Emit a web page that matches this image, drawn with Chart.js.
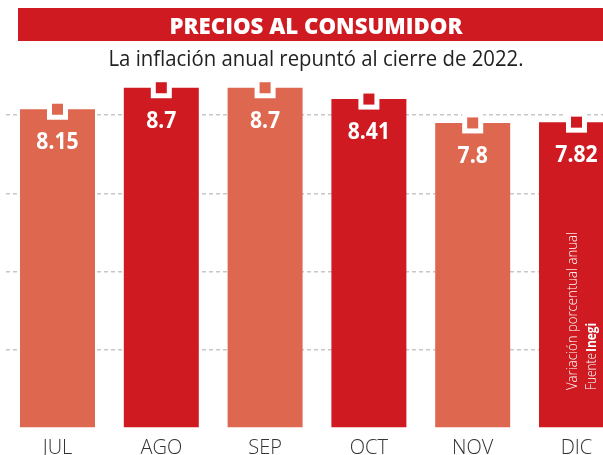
<!DOCTYPE html>
<html>
<head>
<meta charset="utf-8">
<script src="https://cdn.jsdelivr.net/npm/chart.js@4"></script>
<style>
  html, body { margin: 0; padding: 0; background: #fff; overflow: hidden; }
  #wrap { position: relative; width: 603px; height: 455px; overflow: hidden; }
  #wrap canvas { position: absolute; left: 0; top: 0; display: block; }
</style>
</head>
<body>
<div id="wrap"><canvas id="myChart" width="630" height="470"></canvas></div>
<script>
// Data
const categories = ['JUL', 'AGO', 'SEP', 'OCT', 'NOV', 'DIC'];
const values = [8.15, 8.7, 8.7, 8.41, 7.8, 7.82];
const valueLabels = ['8.15', '8.7', '8.7', '8.41', '7.8', '7.82'];
const gridTicks = [0, 2, 4, 6, 8];

const chartTitle = 'PRECIOS AL CONSUMIDOR';
const chartSubtitle = 'La inflación anual repuntó al cierre de 2022.';
const noteText = 'Variación porcentual anual';
const sourceLabel = 'Fuente';
const sourceName = 'Inegi';

const ORANGE = '#DE684F';
const RED = '#CF1A21';
const barColors = categories.map((c, i) => i % 2 === 0 ? ORANGE : RED);

// Banner + subtitle, drawn before everything else
const headerPlugin = {
  id: 'header',
  beforeDraw(chart) {
    const ctx = chart.ctx;
    ctx.save();
    ctx.fillStyle = RED;
    ctx.fillRect(18, 8, 700, 33);

    ctx.fillStyle = '#fff';
    ctx.font = '800 23px "Open Sans"';
    ctx.textAlign = 'center';
    ctx.textBaseline = 'alphabetic';
    ctx.fillText(chartTitle, 316, 33.5, 293);

    ctx.fillStyle = '#222';
    ctx.font = '22px "Open Sans"';
    ctx.fillText(chartSubtitle, 316, 66, 415);
    ctx.restore();
  }
};

// Values inside the bars and the rotated note in the last bar
const labelPlugin = {
  id: 'labels',
  afterDraw(chart) {
    const ctx = chart.ctx;
    const bars = chart.getDatasetMeta(0).data;
    ctx.save();
    ctx.fillStyle = '#fff';
    ctx.font = 'bold 23px "Open Sans"';
    ctx.textAlign = 'center';
    ctx.textBaseline = 'alphabetic';
    bars.forEach((bar, i) => {
      const t = valueLabels[i];
      const w = ctx.measureText(t).width * 0.92;
      ctx.fillText(t, bar.x, bar.y + 40, w);
    });

    const last = bars[bars.length - 1];
    const base = chart.scales.y.getPixelForValue(0) - 38;
    ctx.translate(last.x, base);
    ctx.rotate(-Math.PI / 2);
    ctx.textAlign = 'left';
    ctx.font = '300 14px "Open Sans"';
    ctx.fillText(noteText, 0, 0, 158);
    const fw = ctx.measureText(sourceLabel).width * 0.85;
    ctx.fillText(sourceLabel, 0, 19, fw);
    ctx.font = 'bold 14px "Open Sans"';
    ctx.fillText(sourceName, fw + 1, 19, ctx.measureText(sourceName).width * 0.85);
    ctx.restore();
  }
};

new Chart(document.getElementById('myChart'), {
  type: 'bar',
  data: {
    labels: categories,
    datasets: [
      {
        label: 'Inflación',
        data: values,
        backgroundColor: barColors,
        barPercentage: 0.7225,
        categoryPercentage: 1,
        order: 3
      },
      {
        type: 'line',
        data: values,
        showLine: false,
        pointStyle: 'rect',
        pointRadius: 14.85,
        pointHoverRadius: 14.85,
        pointBackgroundColor: '#fff',
        pointBorderWidth: 0,
        clip: false,
        order: 2
      },
      {
        type: 'line',
        data: values,
        showLine: false,
        pointStyle: 'rect',
        pointRadius: 7.8,
        pointHoverRadius: 7.8,
        pointBackgroundColor: barColors,
        pointBorderWidth: 0,
        clip: false,
        order: 1
      }
    ]
  },
  options: {
    responsive: false,
    animation: false,
    layout: { autoPadding: false, padding: { top: 76, left: 5.6, right: 1.6, bottom: 2 } },
    plugins: {
      legend: { display: false },
      tooltip: { enabled: false }
    },
    scales: {
      x: {
        grid: { display: false, drawTicks: false },
        border: { display: false },
        ticks: {
          color: '#333',
          padding: 8,
          font: { family: 'Open Sans', size: 20, weight: '300' }
        }
      },
      y: {
        min: 0,
        max: 9,
        z: 1,
        afterBuildTicks(scale) {
          scale.ticks = gridTicks.map(v => ({ value: v }));
        },
        ticks: { display: false },
        border: { display: false, dash: [4, 3] },
        grid: {
          drawTicks: false,
          lineWidth: 1.5,
          color: ctx => ctx.tick && ctx.tick.value === 0 ? 'rgba(0,0,0,0)' : 'rgba(0,0,0,0.22)'
        }
      }
    }
  },
  plugins: [headerPlugin, labelPlugin]
});
</script>
</body>
</html>
